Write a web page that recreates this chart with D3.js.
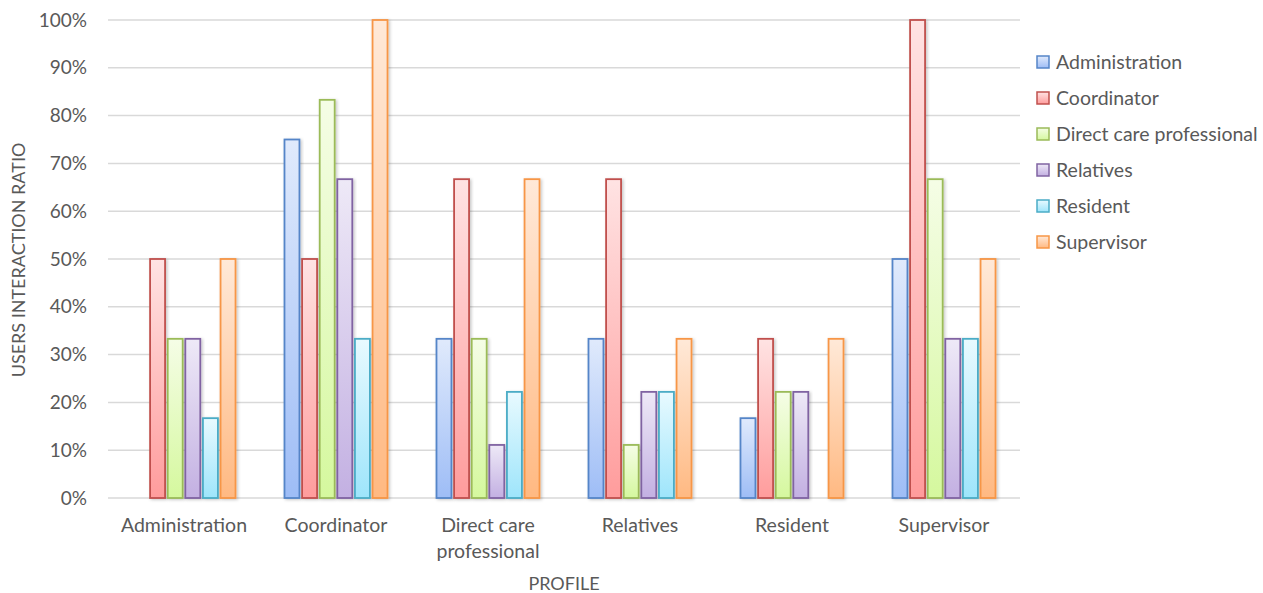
<!DOCTYPE html>
<html><head><meta charset="utf-8">
<script src="https://cdn.jsdelivr.net/npm/d3@7"></script>
<style>
body{margin:0;background:#fff;}
svg{display:block;font-family:Lato,"Liberation Sans",sans-serif;}
</style></head>
<body><svg id="c" width="1263" height="593"></svg>
<script>
const categories = ["Administration","Coordinator","Direct care professional","Relatives","Resident","Supervisor"];
const seriesNames = ["Administration","Coordinator","Direct care professional","Relatives","Resident","Supervisor"];
// each series across categories (ratio 0..1)
const sAdministration = [0, 0.75, 0.333, 0.333, 0.167, 0.50];
const sCoordinator    = [0.50, 0.50, 0.667, 0.667, 0.333, 1.00];
const sDirectCare     = [0.333, 0.833, 0.333, 0.111, 0.222, 0.667];
const sRelatives      = [0.333, 0.667, 0.111, 0.222, 0.222, 0.333];
const sResident       = [0.167, 0.333, 0.222, 0.222, 0, 0.333];
const sSupervisor     = [0.50, 1.00, 0.667, 0.333, 0.333, 0.50];
const seriesValues = [sAdministration,sCoordinator,sDirectCare,sRelatives,sResident,sSupervisor];
const yTicks = [0,0.1,0.2,0.3,0.4,0.5,0.6,0.7,0.8,0.9,1.0];

const strokes = ["#5585c8","#c0504d","#9bbb59","#8064a2","#4bacc6","#f79646"];
const topFill = ["#e0eafc","#ffe3e3","#f5fde6","#eee9f7","#e8faff","#ffe9d8"];
const botFill = ["#9ebdf6","#ff9c9c","#d5f89e","#c3b0e2","#9ee5fb","#ffb982"];

const svg = d3.select("#c");
const defs = svg.append("defs");
seriesNames.forEach((s,i)=>{
  const g = defs.append("linearGradient").attr("id","g"+i).attr("x1",0).attr("y1",0).attr("x2",0).attr("y2",1);
  g.append("stop").attr("offset","0%").attr("stop-color",topFill[i]);
  g.append("stop").attr("offset","100%").attr("stop-color",botFill[i]);
});
const f = defs.append("filter").attr("id","sh").attr("x","-30%").attr("y","-10%").attr("width","160%").attr("height","120%");
f.append("feDropShadow").attr("dx",1.5).attr("dy",1).attr("stdDeviation",1.5).attr("flood-color","#000").attr("flood-opacity",0.22);

const L=108,R=1020,T=20,B=498;
const x0 = d3.scaleBand().domain(categories).range([L,R]).padding(0);
const x1 = d3.scaleBand().domain(seriesNames).range([0,x0.bandwidth()]).paddingInner(0.15).paddingOuter(1.39);
const y = d3.scaleLinear().domain([0,1]).range([B,T]);
const txt = "#595959";

// gridlines
svg.append("g").selectAll("line").data(yTicks).join("line")
  .attr("x1",L).attr("x2",R).attr("y1",d=>y(d)).attr("y2",d=>y(d))
  .attr("stroke","#d9d9d9").attr("stroke-width",1.5);

// y axis labels
const yAxis = d3.axisLeft(y).tickValues(yTicks).tickFormat(d3.format(".0%")).tickSize(0).tickPadding(21);
const ya = svg.append("g").attr("transform",`translate(${L},0)`).call(yAxis);
ya.select(".domain").remove();
ya.selectAll("text").attr("fill",txt).style("font-size","19px").style("font-family","Lato,sans-serif");

// bars
const groups = svg.append("g").selectAll("g").data(categories).join("g")
  .attr("transform",d=>`translate(${x0(d)},0)`);
groups.selectAll("rect").data((c,ci)=>seriesNames.map((s,si)=>({s,si,v:seriesValues[si][ci]})).filter(d=>d.v>0))
  .join("rect")
  .attr("x",d=>x1(d.s)).attr("width",x1.bandwidth())
  .attr("y",d=>y(d.v)).attr("height",d=>y(0)-y(d.v))
  .attr("fill",d=>`url(#g${d.si})`).attr("stroke",d=>strokes[d.si]).attr("stroke-width",1.8)
  .attr("filter","url(#sh)");

// x axis labels
const xa = svg.append("g");
const wrapLabels = {"Direct care professional":["Direct care","professional"]};
categories.forEach(c=>{
  const lines = wrapLabels[c]||[c];
  const t = xa.append("text").attr("x",x0(c)+x0.bandwidth()/2).attr("y",532)
    .attr("text-anchor","middle").attr("fill",txt).style("font-size","19.5px");
  lines.forEach((ln,i)=>t.append("tspan").attr("x",x0(c)+x0.bandwidth()/2).attr("dy",i?26:0).text(ln));
});

// axis titles
svg.append("text").attr("x",(L+R)/2).attr("y",590).attr("text-anchor","middle").attr("fill",txt)
  .style("font-size","18px").text("PROFILE");
svg.append("text").attr("transform",`translate(25,260) rotate(-90)`).attr("text-anchor","middle").attr("fill",txt)
  .style("font-size","18px").text("USERS INTERACTION RATIO");

// legend
const lg = svg.append("g").selectAll("g").data(seriesNames).join("g")
  .attr("transform",(d,i)=>`translate(1037,${62+i*36})`);
lg.append("rect").attr("x",0).attr("y",-6).attr("width",12).attr("height",12)
  .attr("fill",(d,i)=>`url(#g${i})`).attr("stroke",(d,i)=>strokes[i]).attr("stroke-width",1.5);
lg.append("text").attr("x",19).attr("y",7).attr("fill",txt).style("font-size","19.5px").text(d=>d);
</script></body></html>
